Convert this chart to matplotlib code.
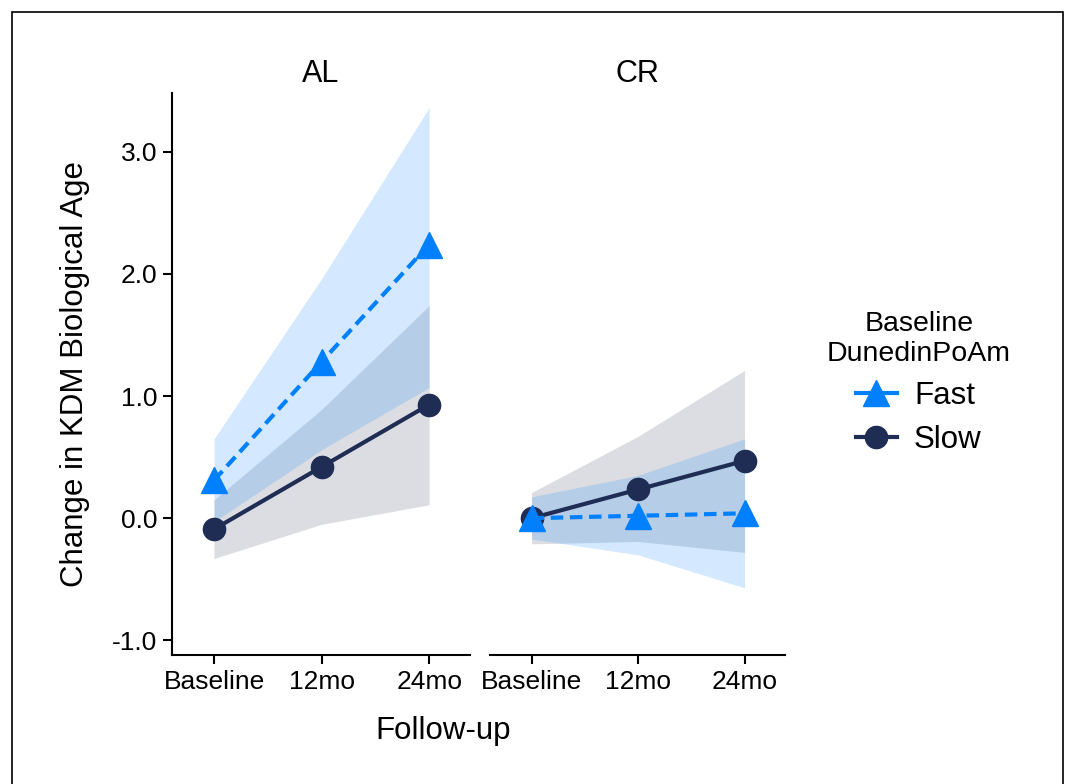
import matplotlib.pyplot as plt
from matplotlib.lines import Line2D
from matplotlib.patches import Rectangle

plt.rcParams['font.family'] = ['Liberation Sans', 'DejaVu Sans']

# Data
timepoints = ['Baseline', '12mo', '24mo']
panels = ['AL', 'CR']

al_fast = [0.31, 1.28, 2.24]
al_fast_lo = [-0.03, 0.56, 1.07]
al_fast_hi = [0.65, 1.96, 3.36]
al_slow = [-0.09, 0.42, 0.93]
al_slow_lo = [-0.33, -0.05, 0.11]
al_slow_hi = [0.15, 0.89, 1.74]

cr_fast = [0.0, 0.02, 0.04]
cr_fast_lo = [-0.17, -0.30, -0.57]
cr_fast_hi = [0.175, 0.35, 0.65]
cr_slow = [0.0, 0.235, 0.47]
cr_slow_lo = [-0.21, -0.19, -0.28]
cr_slow_hi = [0.21, 0.67, 1.21]

yticks = [-1.0, 0.0, 1.0, 2.0, 3.0]

fast_col = '#0080FF'
slow_col = '#1F2D55'

fig = plt.figure(figsize=(10.66, 7.84), dpi=100)
ax1 = fig.add_axes([0.1614, 0.1645, 0.2795, 0.7168])
ax2 = fig.add_axes([0.4597, 0.1645, 0.2767, 0.7168])

data = {
    'AL': (al_fast, al_fast_lo, al_fast_hi, al_slow, al_slow_lo, al_slow_hi),
    'CR': (cr_fast, cr_fast_lo, cr_fast_hi, cr_slow, cr_slow_lo, cr_slow_hi),
}

x = list(range(len(timepoints)))
for ax, name in zip([ax1, ax2], panels):
    f, flo, fhi, s, slo, shi = data[name]
    ax.fill_between(x, slo, shi, color=slow_col, alpha=0.16, lw=0)
    ax.fill_between(x, flo, fhi, color=fast_col, alpha=0.17, lw=0)
    ax.plot(x, s, color=slow_col, lw=3, marker='o', markersize=16, zorder=3)
    ax.plot(x, f, color=fast_col, lw=3, ls=(0, (3, 1.6)), marker='^',
            markersize=19, zorder=4)
    ax.set_xlim(-0.39, 2.38)
    ax.set_ylim(-1.12, 3.48)
    ax.set_xticks(x)
    ax.set_xticklabels(timepoints)
    ax.set_title(name, fontsize=22, pad=8)
    for sp in ['top', 'right']:
        ax.spines[sp].set_visible(False)
    ax.spines['bottom'].set_linewidth(1.5)
    ax.spines['left'].set_linewidth(1.5)
    ax.tick_params(labelsize=19, width=1.5, length=6.5, pad=4, direction='out')

ax1.set_yticks(yticks)
ax1.set_yticklabels(['%.1f' % v for v in yticks])
ax1.set_ylabel('Change in KDM Biological Age', fontsize=22.5, labelpad=16)

ax2.spines['left'].set_visible(False)
ax2.set_yticks([])

fig.text(0.4155, 0.067, 'Follow-up', fontsize=22.5, ha='center', va='center')

handles = [
    Line2D([], [], color=fast_col, lw=3, marker='^', markersize=19),
    Line2D([], [], color=slow_col, lw=3, marker='o', markersize=16),
]
leg = fig.legend(handles, ['Fast', 'Slow'], title='Baseline\nDunedinPoAm',
                 loc='center', bbox_to_anchor=(0.862, 0.512), frameon=False,
                 fontsize=22.5, title_fontsize=20.5, handlelength=1.3,
                 handletextpad=0.55, labelspacing=0.45)
leg.get_title().set_multialignment('center')

fig.patches.append(Rectangle((0.0113, -0.01), 0.9859, 0.9947, transform=fig.transFigure,
                             fill=False, edgecolor='black', lw=1.2))

fig.savefig('out.png', dpi=100)
